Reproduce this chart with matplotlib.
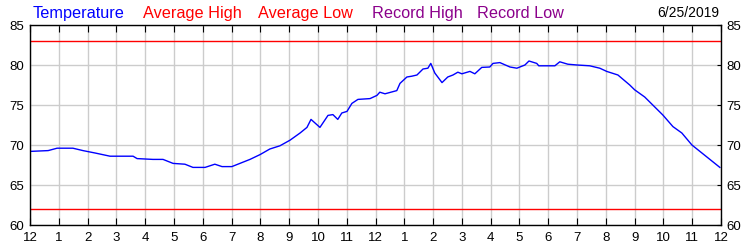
'''Daily temperature trace with average high/low lines'''

import numpy as np
import matplotlib as ma
ma.use('agg')
import matplotlib.pyplot as plt

hours = [0, 0.63, 0.94, 1.49, 1.84, 2.26, 2.78, 3.58, 3.72, 4.27, 4.62, 4.97,
         5.38, 5.66, 6.08, 6.42, 6.67, 7.01, 7.29, 7.64, 7.99, 8.33, 8.68,
         9.03, 9.38, 9.62, 9.76, 10.07, 10.35, 10.52, 10.69, 10.83, 11.01,
         11.18, 11.39, 11.81, 12.05, 12.15, 12.33, 12.74, 12.85, 13.09, 13.26,
         13.44, 13.65, 13.82, 13.92, 14.06, 14.31, 14.51, 14.69, 14.86, 15.0,
         15.28, 15.45, 15.69, 15.97, 16.08, 16.32, 16.67, 16.91, 17.19, 17.33,
         17.6, 17.67, 18.23, 18.4, 18.68, 19.0, 19.44, 19.79, 20.03, 20.42,
         20.83, 21.0, 21.35, 21.63, 21.98, 22.33, 22.64, 22.99, 23.51, 23.96]
temps = [69.2, 69.3, 69.6, 69.6, 69.3, 69.0, 68.6, 68.6, 68.3, 68.2, 68.2, 67.7,
         67.6, 67.2, 67.2, 67.6, 67.3, 67.3, 67.7, 68.2, 68.8, 69.5, 69.9,
         70.6, 71.5, 72.2, 73.2, 72.2, 73.7, 73.8, 73.2, 74.0, 74.2,
         75.2, 75.7, 75.8, 76.2, 76.6, 76.4, 76.8, 77.7, 78.5, 78.6,
         78.75, 79.5, 79.6, 80.2, 79.0, 77.8, 78.5, 78.75, 79.1, 78.9,
         79.2, 78.9, 79.7, 79.75, 80.2, 80.3, 79.75, 79.6, 80.0, 80.5,
         80.2, 79.9, 79.9, 80.4, 80.1, 80.0, 79.9, 79.6, 79.2, 78.75,
         77.5, 76.9, 76.0, 75.0, 73.75, 72.3, 71.5, 70.0, 68.5, 67.2]
avg_high = 83
avg_low = 62
hour_labels = ['12', '1', '2', '3', '4', '5', '6', '7', '8', '9', '10', '11',
               '12', '1', '2', '3', '4', '5', '6', '7', '8', '9', '10', '11', '12']
yticks = [60, 65, 70, 75, 80, 85]
legend = [('Temperature', 'blue'), ('Average High', 'red'), ('Average Low', 'red'),
          ('Record High', '#8b008b'), ('Record Low', '#8b008b')]
legend_x = [33, 143, 258, 372, 477]
date = '6/25/2019'

plt.rcParams['font.family'] = ['Liberation Sans', 'DejaVu Sans']

fig = plt.figure(figsize=(7.5, 2.5), dpi=100)
ax = fig.add_axes([30/750, 25/250, 691/750, 200/250])

ax.plot(hours, temps, c='blue', lw=1)
ax.axhline(avg_high, c='red', lw=1)
ax.axhline(avg_low, c='red', lw=1)

ax.set_xlim(0, 24)
ax.set_ylim(60, 85)
ax.set_xticks(range(25))
ax.set_xticklabels(hour_labels, fontsize=9.5)
ax.set_yticks(yticks)
ax.set_yticklabels([str(v) for v in yticks], fontsize=9.5)
ax.grid(True, color='#cccccc', lw=1)
ax.set_axisbelow(True)
ax.tick_params(axis='x', direction='in', length=5, top=True, pad=5)
ax.tick_params(axis='y', direction='in', length=3, left=False, right=True,
               labelleft=True, labelright=True, pad=4)
for s in ax.spines.values():
    s.set_linewidth(1)

for (txt, col), x in zip(legend, legend_x):
    fig.text(x/750, 1 - 18/250, txt, color=col, fontsize=11.7, va='baseline')
fig.text(719/750, 1 - 17/250, date, color='black', fontsize=10, va='baseline', ha='right')

fig.savefig('out.png', dpi=100)
